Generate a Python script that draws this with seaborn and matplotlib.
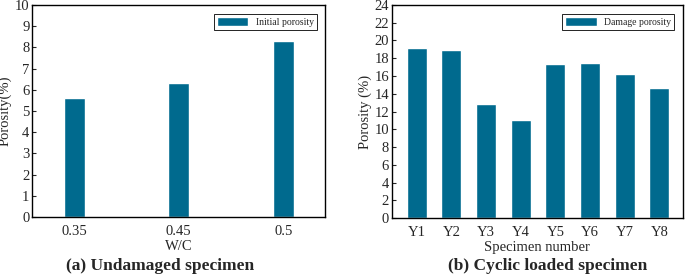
import matplotlib
matplotlib.use("Agg")
import matplotlib.pyplot as plt
import seaborn as sns
import pandas as pd

# --- DATA ---
wc_ratio = ["0.35", "0.45", "0.5"]
initial_porosity = [5.6, 6.3, 8.3]

specimens = ["Y1", "Y2", "Y3", "Y4", "Y5", "Y6", "Y7", "Y8"]
damage_porosity = [19.2, 18.9, 12.9, 11.0, 17.3, 17.5, 16.2, 14.7]

bar_color = "#006a8e"

sns.set_style("ticks")
plt.rcParams["font.family"] = ["Liberation Serif", "DejaVu Serif"]
plt.rcParams["axes.linewidth"] = 1.0
plt.rcParams["xtick.direction"] = "in"
plt.rcParams["ytick.direction"] = "in"

fig = plt.figure(figsize=(6.85, 2.75), dpi=100)
ax1 = fig.add_axes([0.047, 0.211, 0.428, 0.771])
ax2 = fig.add_axes([0.572, 0.207, 0.425, 0.775])

# --- (a) Undamaged ---
df_a = pd.DataFrame({"wc": wc_ratio, "porosity": initial_porosity})
sns.barplot(data=df_a, x="wc", y="porosity", color=bar_color, width=0.2,
            saturation=1, ax=ax1, label="Initial porosity")
ax1.set_xlim(-0.4, 2.4)
ax1.set_ylim(0, 10)
ax1.set_yticks(range(0, 11))
ax1.set_xlabel("W/C", fontsize=10.5, labelpad=1)
ax1.set_ylabel("Porosity(%)", fontsize=10.5, labelpad=2)

# --- (b) Cyclic loaded ---
df_b = pd.DataFrame({"spec": specimens, "porosity": damage_porosity})
sns.barplot(data=df_b, x="spec", y="porosity", color=bar_color, width=0.58,
            saturation=1, ax=ax2, label="Damage porosity")
ax2.set_xlim(-0.72, 7.68)
ax2.set_ylim(0, 24)
ax2.set_yticks(range(0, 25, 2))
ax2.set_xlabel("Specimen number", fontsize=10.5, labelpad=1)
ax2.set_ylabel("Porosity (%)", fontsize=10.5, labelpad=2)

for ax in (ax1, ax2):
    ax.tick_params(labelsize=10.5, length=3, width=0.8, pad=2)
    ax.tick_params(axis="x", length=0, pad=6)
    for s in ax.spines.values():
        s.set_visible(True)
        s.set_color("black")
    leg = ax.legend(loc="upper right", fontsize=7, frameon=True, fancybox=False,
                    edgecolor="black", framealpha=1, handlelength=3.2,
                    handleheight=1.1, borderpad=0.3, borderaxespad=0.9)
    leg.get_frame().set_linewidth(0.6)

fig.text(0.234, 0.034, "(a) Undamaged specimen", ha="center", va="center",
         fontsize=12.5, fontweight="bold")
fig.text(0.799, 0.034, "(b) Cyclic loaded specimen", ha="center", va="center",
         fontsize=12.5, fontweight="bold")

fig.savefig("out.png", dpi=100)
